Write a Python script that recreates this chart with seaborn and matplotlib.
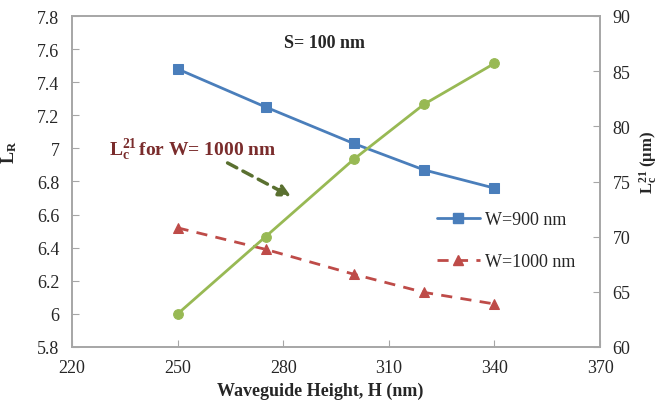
import matplotlib
matplotlib.use("Agg")
import matplotlib.pyplot as plt
import seaborn as sns
import pandas as pd
from matplotlib.lines import Line2D

# ---- data ----
height_nm = [250, 275, 300, 320, 340]
lr_w900 = [7.48, 7.25, 7.03, 6.87, 6.76]
lr_w1000 = [6.52, 6.39, 6.24, 6.13, 6.06]
lc21_w1000 = [63.0, 70.0, 77.0, 82.0, 85.7]

x_ticks = [220, 250, 280, 310, 340, 370]
left_ticks = [5.8, 6.0, 6.2, 6.4, 6.6, 6.8, 7.0, 7.2, 7.4, 7.6, 7.8]
left_tick_labels = ["5.8", "6", "6.2", "6.4", "6.6", "6.8", "7", "7.2", "7.4", "7.6", "7.8"]
right_ticks = [60, 65, 70, 75, 80, 85, 90]

label_900 = "W=900 nm"
label_1000 = "W=1000 nm"

sns.set_style("white")
plt.rcParams["font.family"] = ["Liberation Serif", "DejaVu Serif"]
plt.rcParams["mathtext.fontset"] = "custom"
plt.rcParams["mathtext.rm"] = "Liberation Serif"
plt.rcParams["mathtext.it"] = "Liberation Serif:italic"
plt.rcParams["mathtext.bf"] = "Liberation Serif:bold"

BLUE = "#4A7EBB"
RED = "#BE4B48"
GREEN = "#98B954"
SPINE = "#A6A6A6"

fig = plt.figure(figsize=(6.61, 4.06), dpi=100)
ax = fig.add_axes([72 / 661, 1 - 348 / 406, (600 - 72) / 661, (348 - 17) / 406])
ax2 = ax.twinx()

df900 = pd.DataFrame({"H": height_nm, "LR": lr_w900})
df1000 = pd.DataFrame({"H": height_nm, "LR": lr_w1000})
dfg = pd.DataFrame({"H": height_nm, "Lc": lc21_w1000})

sns.lineplot(data=df900, x="H", y="LR", ax=ax, color=BLUE, marker="s",
             markersize=7, markeredgecolor=BLUE, linewidth=2, legend=False)
sns.lineplot(data=df1000, x="H", y="LR", ax=ax, color=RED, marker="^",
             markersize=7, markeredgecolor=RED, linewidth=2, legend=False,
             dashes=False)
ax.lines[-1].set_linestyle((0, (4, 3)))
sns.lineplot(data=dfg, x="H", y="Lc", ax=ax2, color=GREEN, marker="o",
             markersize=7, markeredgecolor=GREEN, linewidth=2, legend=False)

ax.set_xlim(220, 370)
ax.set_ylim(5.8, 7.8)
ax2.set_ylim(60, 90)
ax.set_xticks(x_ticks)
ax.set_yticks(left_ticks)
ax.set_yticklabels(left_tick_labels)
ax2.set_yticks(right_ticks)

for a in (ax, ax2):
    for s in a.spines.values():
        s.set_color(SPINE)
        s.set_linewidth(1.2)
    a.grid(False)

ax.tick_params(axis="both", direction="in", length=5, color=SPINE,
               labelsize=13, pad=9, left=True, bottom=True)
ax2.tick_params(axis="y", direction="in", length=5, color=SPINE,
                labelsize=13, pad=9, right=True)

ax.set_xlabel("Waveguide Height, H (nm)", fontsize=13, fontweight="bold")
ax.xaxis.set_label_coords(0.47, -0.105)
ax.set_ylabel(r"$\mathbf{L_R}$", fontsize=13)
ax.yaxis.set_label_coords(-0.1, 0.59)
ax2.set_ylabel(r"$\mathbf{L_c^{21}}$ (μm)", fontsize=12, fontweight="bold")
ax2.yaxis.set_label_coords(1.07, 0.56)

ax.text(0.479, 0.921, "S= 100 nm", transform=ax.transAxes, ha="center",
        va="center", fontsize=13, fontweight="bold")

ax.annotate("", xy=(0.42, 0.45), xycoords="axes fraction",
            xytext=(0.29, 0.56), textcoords="axes fraction",
            arrowprops=dict(arrowstyle="-|>,head_length=0.7,head_width=0.35",
                            linestyle=(0, (3, 2)), color="#5A7030", lw=2.5))
ax.text(0.07, 0.598, r"$\mathbf{L_c^{21}}\,$for W= 1000 nm", transform=ax.transAxes,
        ha="left", va="center", fontsize=14, fontweight="bold", color="#7A2C2C")

handles = [
    Line2D([], [], color=BLUE, marker="s", markersize=7, linewidth=2),
    Line2D([], [], color=RED, marker="^", markersize=7, linewidth=2,
           linestyle=(0, (4, 3))),
]
ax.legend(handles, [label_900, label_1000], loc="upper left",
          bbox_to_anchor=(0.66, 0.46), frameon=False, fontsize=13,
          labelspacing=1.4, handlelength=2.4, handletextpad=0.3)

fig.savefig("out.png", dpi=100)
